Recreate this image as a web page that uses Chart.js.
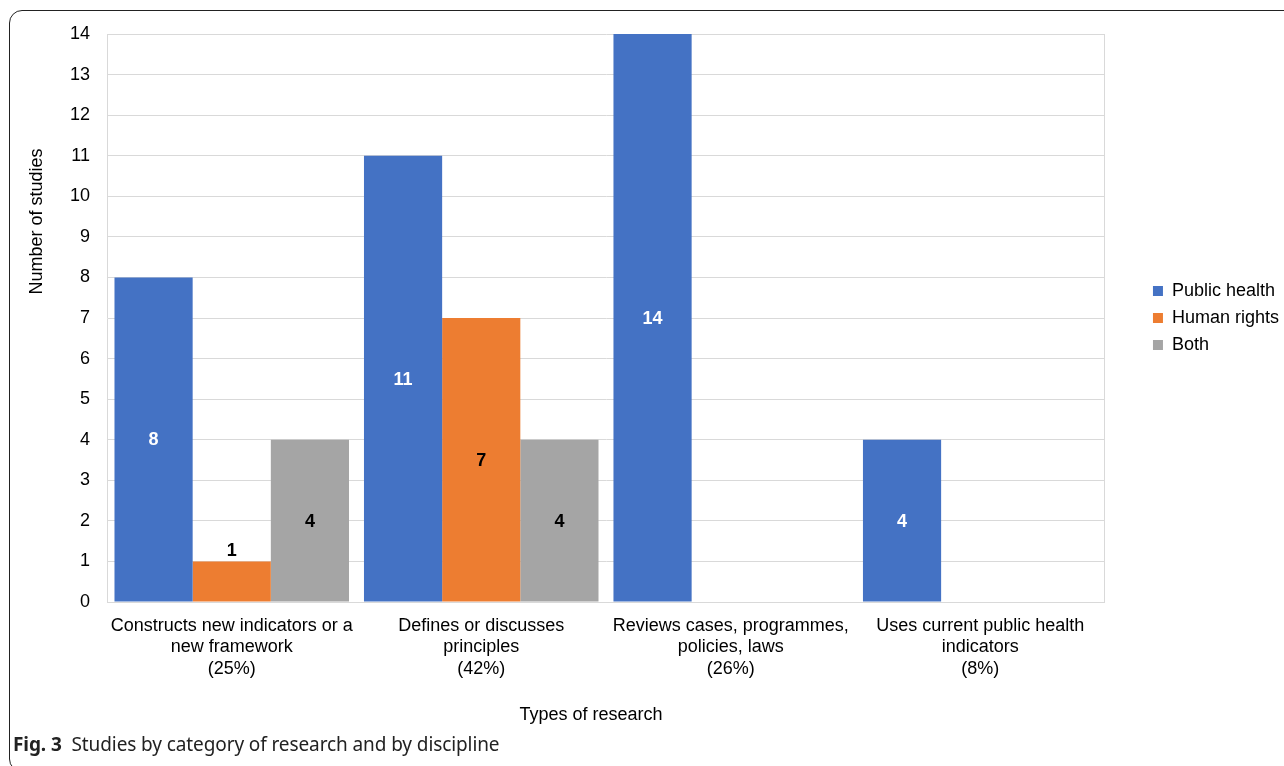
<!DOCTYPE html>
<html>
<head>
<meta charset="utf-8">
<script src="https://cdn.jsdelivr.net/npm/chart.js@4/dist/chart.umd.min.js"></script>
<style>
  html, body { margin: 0; padding: 0; background: #fff; width: 1284px; height: 766px; overflow: hidden; }
  #frame { position: absolute; left: 9px; top: 10px; width: 1400px; height: 762px; border: 1.5px solid #222; border-radius: 13px; box-sizing: border-box; }
  #wrap { position: absolute; left: 0; top: 0; width: 1284px; height: 766px; }
  #caption { position: absolute; left: 13px; top: 731px; font-family: "Noto Sans", "Open Sans", sans-serif; font-size: 19px; color: #222; white-space: nowrap; letter-spacing: -0.1px; }
  #caption b { font-weight: 700; margin-right: 5px; }
</style>
</head>
<body>
<div id="frame"></div>
<div id="wrap"><canvas id="c" width="1284" height="766"></canvas></div>
<div id="caption"><b>Fig. 3</b> Studies by category of research and by discipline</div>
<script>
const categories = [
  ["Constructs new indicators or a", "new framework", "(25%)"],
  ["Defines or discusses", "principles", "(42%)"],
  ["Reviews cases, programmes,", "policies, laws", "(26%)"],
  ["Uses current public health", "indicators", "(8%)"]
];
const seriesNames = ["Public health", "Human rights", "Both"];
const publicHealth = [8, 11, 14, 4];
const humanRights = [1, 7, 0, 0];
const both = [4, 4, 0, 0];
const yTicks = [0,1,2,3,4,5,6,7,8,9,10,11,12,13,14];
const xTitle = "Types of research";
const yTitle = "Number of studies";

const colors = ["#4472C4", "#ED7D31", "#A5A5A5"];
const labelColors = ["#ffffff", "#000000", "#000000"];
const FONT = "'Liberation Sans', Arial, sans-serif";

const valueLabels = {
  id: 'valueLabels',
  afterDatasetsDraw(chart) {
    const ctx = chart.ctx;
    ctx.save();
    ctx.font = "bold 18px " + FONT;
    ctx.textAlign = 'center';
    ctx.textBaseline = 'middle';
    chart.data.datasets.forEach((ds, i) => {
      const meta = chart.getDatasetMeta(i);
      meta.data.forEach((el, j) => {
        const v = ds.data[j];
        if (!v) return;
        const h = el.base - el.y;
        let ty, col;
        if (h < 45) { ty = el.y - 11; col = '#000'; }
        else { ty = (el.y + el.base) / 2; col = labelColors[i]; }
        ctx.fillStyle = col;
        ctx.fillText(String(v), el.x, ty + 1);
      });
    });
    ctx.restore();
  }
};

const axisTitles = {
  id: 'axisTitles',
  afterDraw(chart) {
    const ctx = chart.ctx;
    const a = chart.chartArea;
    ctx.save();
    ctx.font = "18px " + FONT;
    ctx.fillStyle = '#000';
    ctx.textAlign = 'center';
    ctx.textBaseline = 'middle';
    ctx.fillText(xTitle, a.left + (a.right - a.left) * 0.485, 715);
    ctx.translate(37, a.top + (a.bottom - a.top) * 0.33);
    ctx.rotate(-Math.PI / 2);
    ctx.fillText(yTitle, 0, 0);
    ctx.restore();
  }
};

new Chart(document.getElementById('c'), {
  type: 'bar',
  data: {
    labels: categories,
    datasets: [
      { label: seriesNames[0], data: publicHealth, backgroundColor: colors[0] },
      { label: seriesNames[1], data: humanRights, backgroundColor: colors[1] },
      { label: seriesNames[2], data: both, backgroundColor: colors[2] }
    ]
  },
  options: {
    responsive: false,
    animation: false,
    devicePixelRatio: 1,
    layout: { padding: { top: 34, left: 0, right: -5, bottom: 0 } },
    datasets: { bar: { categoryPercentage: 0.94, barPercentage: 1.0, borderWidth: 0 } },
    plugins: {
      legend: {
        position: 'right',
        align: 'center',
        fullSize: false,
        labels: {
          boxWidth: 10, boxHeight: 10, padding: 9,
          color: '#000',
          font: { family: FONT, size: 18 }
        }
      },
      tooltip: { enabled: false },
      title: { display: false }
    },
    scales: {
      x: {
        grid: { display: false, drawTicks: false },
        border: { display: true, color: '#d9d9d9', width: 1 },
        ticks: { color: '#000', font: { family: FONT, size: 18, lineHeight: 1.2 }, padding: 13, maxRotation: 0, autoSkip: false },
        afterFit(scale) { scale.height = 164; }
      },
      y: {
        min: 0, max: 14,
        afterBuildTicks(scale) { scale.ticks = yTicks.map(v => ({ value: v })); },
        grid: { color: '#d9d9d9', lineWidth: 1, drawTicks: false },
        border: { display: true, color: '#d9d9d9', width: 1 },
        ticks: { color: '#000', font: { family: FONT, size: 18 }, padding: 17 },
        afterFit(scale) { scale.width = 107; }
      },
      y2: {
        type: 'linear',
        position: 'right',
        display: true,
        grid: { display: false, drawTicks: false },
        border: { display: true, color: '#d9d9d9', width: 1 },
        ticks: { display: false },
        afterFit(scale) { scale.width = 39; }
      }
    }
  },
  plugins: [valueLabels, axisTitles]
});
</script>
</body>
</html>
